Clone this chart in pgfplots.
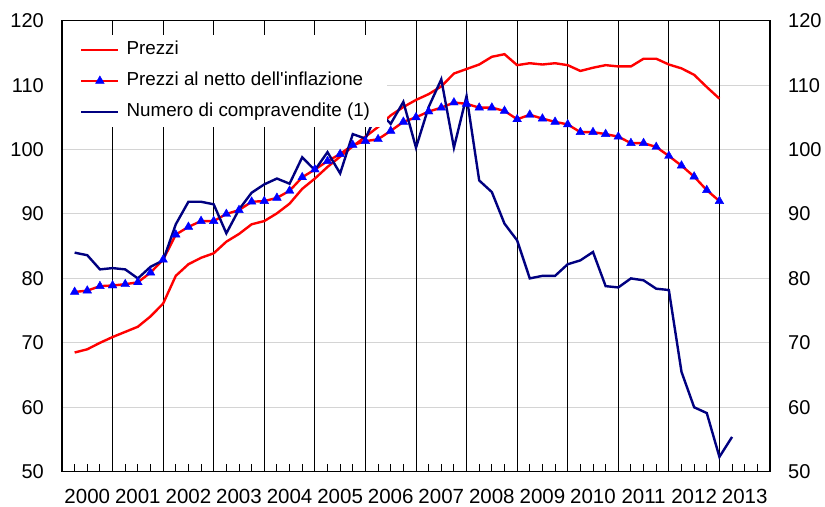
\documentclass[border=0pt]{standalone}
\usepackage{pgfplots}
\pgfplotsset{compat=1.18}
\usepackage{fontspec}
\setmainfont{Liberation Sans}[Ligatures=TeXOff]
\definecolor{navyline}{RGB}{0,0,128}
\definecolor{gridgray}{RGB}{212,212,212}

\pgfplotstableread{
k v
1 68.5
2 69.0
3 70.0
4 70.9
5 71.7
6 72.5
7 74.1
8 76.1
9 80.4
10 82.2
11 83.2
12 83.9
13 85.7
14 86.9
15 88.4
16 88.9
17 90.1
18 91.6
19 93.9
20 95.5
21 97.3
22 98.9
23 100.5
24 102.0
25 103.5
26 105.3
27 106.6
28 107.7
29 108.6
30 109.8
31 111.8
32 112.5
33 113.2
34 114.4
35 114.8
36 113.1
37 113.4
38 113.2
39 113.4
40 113.1
41 112.2
42 112.7
43 113.1
44 112.9
45 112.9
46 114.1
47 114.1
48 113.2
49 112.6
50 111.6
51 109.7
52 107.9
}\nominal

\pgfplotstableread{
k v
1 77.9
2 78.1
3 78.8
4 78.9
5 79.1
6 79.4
7 80.9
8 82.9
9 86.8
10 88.0
11 88.9
12 88.9
13 90.0
14 90.6
15 91.9
16 92.0
17 92.5
18 93.6
19 95.7
20 96.9
21 98.2
22 99.3
23 100.7
24 101.3
25 101.6
26 102.9
27 104.3
28 105.0
29 105.9
30 106.5
31 107.3
32 107.1
33 106.5
34 106.5
35 106.0
36 104.7
37 105.4
38 104.8
39 104.3
40 103.9
41 102.7
42 102.7
43 102.4
44 102.0
45 101.0
46 101.0
47 100.4
48 99.0
49 97.5
50 95.8
51 93.7
52 92.0
}\real

\pgfplotstableread{
k v
1 84.0
2 83.6
3 81.4
4 81.6
5 81.4
6 80.0
7 81.8
8 82.8
9 88.4
10 91.9
11 91.9
12 91.5
13 87.0
14 90.7
15 93.3
16 94.6
17 95.5
18 94.7
19 98.8
20 96.8
21 99.6
22 96.3
23 102.4
24 101.7
25 106.0
26 104.0
27 107.4
28 100.3
29 106.6
30 110.9
31 100.3
32 108.3
33 95.2
34 93.4
35 88.5
36 85.9
37 80.0
38 80.4
39 80.4
40 82.2
41 82.8
42 84.1
43 78.8
44 78.6
45 80.0
46 79.7
47 78.4
48 78.2
49 65.5
50 60.0
51 59.1
52 52.3
53 55.4
}\compra

\begin{document}
\begin{tikzpicture}
\useasboundingbox (-62bp,-35.3bp) rectangle (763bp,471.7bp);
\begin{axis}[
  at={(0,0)}, anchor=south west,
  width=708bp, height=451bp, scale only axis,
  xmin=0, xmax=56, ymin=50, ymax=120,
  axis line style={line width=1.2bp, black},
  ytick={50,60,...,120},
  ymajorgrids,
  y grid style={gridgray, line width=1bp},
  xtick={2,6,...,54},
  xticklabels={2000,2001,2002,2003,2004,2005,2006,2007,2008,2009,2010,2011,2012,2013},
  minor xtick={1,...,55},
  minor tick length=8bp,
  major tick length=0pt,
  xtick pos=left, ytick pos=left,
  tick style={black, line width=0.9bp},
  extra x ticks={4,8,...,52},
  extra x tick labels={},
  extra x tick style={grid=major, major grid style={black, line width=0.9bp}},
  /pgf/number format/assume math mode=true,
  ticklabel style={font=\fontsize{20bp}{24bp}\selectfont, inner sep=0pt},
  yticklabel style={xshift=-18bp},
  xticklabel style={yshift=-17.5bp, font=\fontsize{20.5bp}{24bp}\selectfont},
  legend style={
    at={(0.0014,0.969)}, anchor=north west,
    draw=none, fill=white,
    inner xsep=17bp, inner ysep=6bp,
    row sep=13bp, column sep=7bp,
    font=\fontsize{18.8bp}{22bp}\selectfont,
    nodes={inner sep=0pt, text height=14bp, text depth=4bp},
  },
  legend cell align=left,
  legend image code/.code={\draw[mark repeat=2,mark phase=2,#1] plot coordinates {(0bp,0bp) (18.5bp,0bp) (37bp,0bp)};},
]
\addplot[red, line width=2.4bp] table[x=k, y=v]{\nominal};
\addplot[red, line width=2.4bp, mark=triangle*, mark size=5bp,
  mark options={draw=blue, fill=blue, line width=0.4bp, solid}] table[x=k, y=v]{\real};
\addplot[navyline, line width=2.4bp] table[x=k, y=v]{\compra};
\legend{Prezzi, Prezzi al netto dell'inflazione, Numero di compravendite (1)}
\end{axis}
\begin{axis}[
  at={(0,0)}, anchor=south west,
  width=708bp, height=451bp, scale only axis,
  xmin=0, xmax=56, ymin=50, ymax=120,
  axis x line=none, axis y line*=right,
  y axis line style={draw=none},
  ytick={50,60,...,120},
  major tick length=0pt,
  /pgf/number format/assume math mode=true,
  yticklabel style={font=\fontsize{20bp}{24bp}\selectfont, inner sep=0pt, xshift=18bp},
]
\addplot[draw=none] coordinates {(0,50)};
\end{axis}
\end{tikzpicture}
\end{document}
